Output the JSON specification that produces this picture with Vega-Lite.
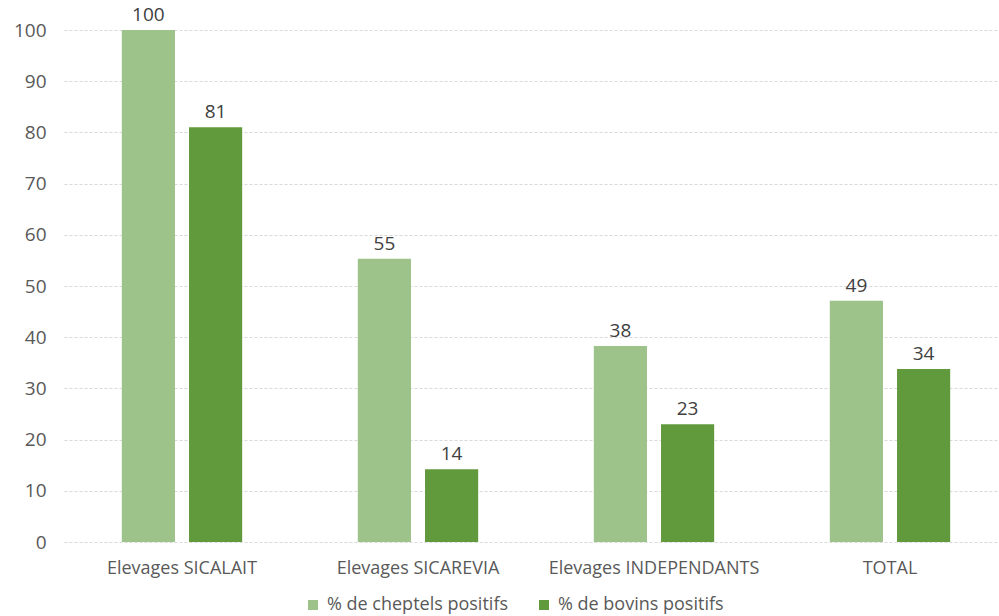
{
  "$schema": "https://vega.github.io/schema/vega-lite/v6.json",
  "width": 935,
  "height": 512,
  "autosize": {"type": "none"},
  "padding": {"left": 64, "top": 30, "right": 0, "bottom": 74},
  "background": "white",
  "config": {"view": {"stroke": null}, "font": "Open Sans"},
  "data": {
    "values": [
      {"cat": "Elevages SICALAIT", "series": "% de cheptels positifs", "value": 100, "label": "100"},
      {"cat": "Elevages SICALAIT", "series": "% de bovins positifs", "value": 81, "label": "81"},
      {"cat": "Elevages SICAREVIA", "series": "% de cheptels positifs", "value": 55.3, "label": "55"},
      {"cat": "Elevages SICAREVIA", "series": "% de bovins positifs", "value": 14.2, "label": "14"},
      {"cat": "Elevages INDEPENDANTS", "series": "% de cheptels positifs", "value": 38.3, "label": "38"},
      {"cat": "Elevages INDEPENDANTS", "series": "% de bovins positifs", "value": 23, "label": "23"},
      {"cat": "TOTAL", "series": "% de cheptels positifs", "value": 47.1, "label": "49"},
      {"cat": "TOTAL", "series": "% de bovins positifs", "value": 33.8, "label": "34"}
    ]
  },
  "encoding": {
    "x": {
      "field": "cat", "type": "nominal", "sort": null,
      "scale": {"range": [0, 944], "paddingInner": 0.49, "paddingOuter": 0.245},
      "axis": {"title": null, "labelAngle": 0, "domain": false, "ticks": false, "labelFontSize": 18, "labelColor": "#595959", "labelPadding": 17, "labelLimit": 400, "grid": false}
    },
    "xOffset": {
      "field": "series", "type": "nominal", "sort": ["% de cheptels positifs", "% de bovins positifs"],
      "scale": {"paddingInner": 0.209, "paddingOuter": 0}
    },
    "y": {
      "field": "value", "type": "quantitative",
      "scale": {"domain": [0, 100], "nice": false},
      "axis": {"title": null, "values": [0,10,20,30,40,50,60,70,80,90,100], "domain": false, "ticks": false, "labelFontSize": 19, "labelColor": "#595959", "labelPadding": 18, "gridColor": "#d9d9d9", "gridDash": [3, 2], "gridWidth": 1}
    }
  },
  "layer": [
    {
      "mark": {"type": "bar"},
      "encoding": {
        "color": {
          "field": "series", "type": "nominal",
          "sort": ["% de cheptels positifs", "% de bovins positifs"],
          "scale": {"domain": ["% de cheptels positifs", "% de bovins positifs"], "range": ["#9dc28a", "#619a3d"]},
          "legend": {"title": null, "orient": "none", "legendX": 240, "legendY": 566, "direction": "horizontal", "symbolType": "square", "symbolSize": 100, "symbolStrokeWidth": 0, "labelFontSize": 18, "labelColor": "#595959", "labelLimit": 400, "columnPadding": 26, "labelOffset": 5}
        }
      }
    },
    {
      "mark": {"type": "text", "baseline": "alphabetic", "dy": -9, "fontSize": 19, "color": "#404040"},
      "encoding": {"text": {"field": "label"}}
    }
  ]
}
